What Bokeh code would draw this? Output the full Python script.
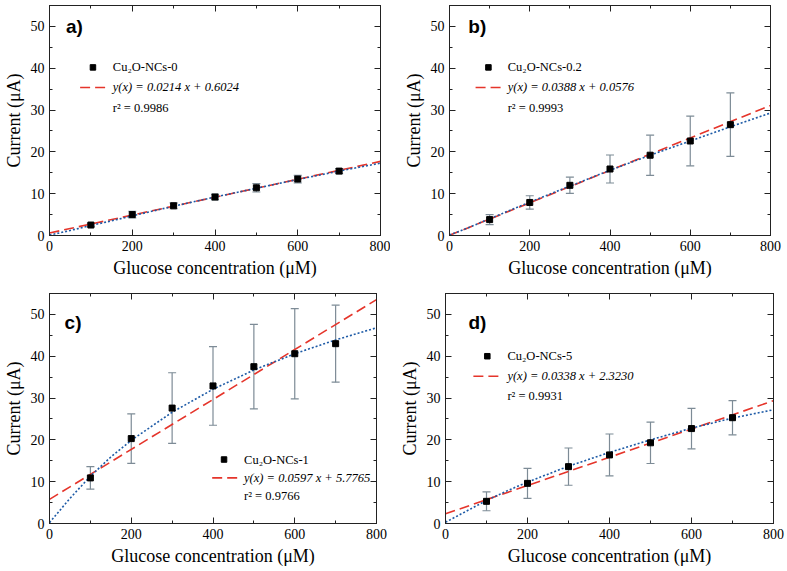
import numpy as np
from bokeh.plotting import figure
from bokeh.models import (LinearAxis, Range1d, Whisker, ColumnDataSource, SingleIntervalTicker,
                          TeeHead, CustomLabelingPolicy)
from bokeh.layouts import column, row
from bokeh.embed import file_html
from bokeh.resources import INLINE
from bokeh.core.properties import value

# ---------------- data ----------------
conc = [100, 200, 300, 400, 500, 600, 700]

a_mean = [2.5, 5.0, 7.1, 9.2, 11.4, 13.5, 15.4]
a_err = [0.4, 0.8, 0.7, 0.7, 1.0, 0.9, 0.6]
b_mean = [3.8, 7.9, 12.0, 15.9, 19.2, 22.6, 26.5]
b_err = [1.2, 1.6, 1.95, 3.35, 4.8, 5.95, 7.6]
c_mean = [10.9, 20.3, 27.6, 32.9, 37.5, 40.6, 43.0]
c_err = [2.7, 5.9, 8.45, 9.4, 10.1, 10.8, 9.2]
d_mean = [5.3, 9.6, 13.6, 16.4, 19.3, 22.7, 25.3]
d_err = [2.25, 3.6, 4.45, 5.0, 4.95, 4.85, 4.1]

# linear fits (from the legends)
fit_slope = [0.0214, 0.0388, 0.0597, 0.0338]
fit_intercept = [0.6024, 0.0576, 5.7765, 2.3230]
fit_r2 = ["0.9986", "0.9993", "0.9766", "0.9931"]
sample_names = ["Cu\u2082O-NCs-0", "Cu\u2082O-NCs-0.2", "Cu\u2082O-NCs-1", "Cu\u2082O-NCs-5"]
panel_labels = ["a)", "b)", "c)", "d)"]

# dotted (non-linear) fit curves
curve_x = [0, 50, 100, 150, 200, 300, 400, 500, 600, 700, 800]
a_curve = [0.1, 1.2, 2.4, 3.5, 4.7, 7.0, 9.2, 11.3, 13.4, 15.4, 17.3]
b_curve = [0.1, 2.0, 4.0, 6.0, 8.0, 11.8, 15.6, 19.2, 22.6, 26.0, 29.3]
c_curve = [0.2, 6.0, 11.3, 15.9, 19.9, 26.6, 32.1, 36.7, 40.6, 43.9, 46.8]
d_curve = [0.3, 2.9, 5.5, 7.8, 9.9, 13.7, 17.0, 20.0, 22.8, 25.2, 27.2]

x_ticks_interval = 200
y_ticks_interval = 10

SERIF = "Liberation Serif"
SANS = "Liberation Sans"
RED = "#e5352b"
BLUE = "#1d5aa6"
ERR = "#7d8b96"

NO_LABELS = "for (const i of [...indices]) { indices.unset(i) } return indices"


def style_axis(ax, labels=True):
    ax.major_tick_in = 6
    ax.major_tick_out = 0
    ax.minor_tick_in = 3
    ax.minor_tick_out = 0
    ax.axis_line_color = "#222222"
    ax.major_tick_line_color = "#222222"
    ax.minor_tick_line_color = "#222222"
    if labels:
        ax.major_label_text_font = SERIF
        ax.major_label_text_font_size = "14px"
        ax.major_label_text_color = "black"
        ax.major_label_standoff = 5
    else:
        ax.major_label_text_font_size = "0px"
        ax.major_label_standoff = 0
        ax.major_label_policy = CustomLabelingPolicy(code=NO_LABELS)


def make_panel(idx, mean, err, curve, width, height, borders, legend_pos, label_pos):
    bl, br, bt, bb = borders
    p = figure(width=width, height=height, x_range=Range1d(0, 800), y_range=Range1d(0, 55),
               output_backend="svg", toolbar_location=None,
               x_axis_label="Glucose concentration (\u03bcM)", y_axis_label="Current (\u03bcA)",
               min_border_left=bl, min_border_right=br, min_border_top=bt, min_border_bottom=bb)
    p.xgrid.visible = False
    p.ygrid.visible = False
    p.outline_line_color = "#222222"
    p.background_fill_color = "white"
    p.border_fill_color = "white"

    xt = SingleIntervalTicker(interval=x_ticks_interval, num_minor_ticks=2)
    yt = SingleIntervalTicker(interval=y_ticks_interval, num_minor_ticks=2)
    p.xaxis.ticker = xt
    p.yaxis.ticker = yt
    for ax in p.xaxis + p.yaxis:
        style_axis(ax)
        ax.axis_label_text_font = SERIF
        ax.axis_label_text_font_size = "18px"
        ax.axis_label_text_font_style = "normal"
        ax.axis_label_text_color = "black"
        ax.axis_label_standoff = 4
    top = LinearAxis(ticker=SingleIntervalTicker(interval=x_ticks_interval, num_minor_ticks=2))
    right = LinearAxis(ticker=SingleIntervalTicker(interval=y_ticks_interval, num_minor_ticks=2))
    style_axis(top, labels=False)
    style_axis(right, labels=False)
    p.add_layout(top, "above")
    p.add_layout(right, "right")

    lower = [m - e for m, e in zip(mean, err)]
    upper = [m + e for m, e in zip(mean, err)]
    src = ColumnDataSource(dict(x=conc, y=mean, lower=lower, upper=upper))

    # linear fit line
    fx = np.array([0, 800])
    fy = fit_slope[idx] * fx + fit_intercept[idx]
    p.line(fx, fy, line_color=RED, line_width=1.6, line_dash="10 5")
    # dotted curve
    p.line(curve_x, curve, line_color=BLUE, line_width=1.6, line_dash="2 2")

    w = Whisker(base="x", lower="lower", upper="upper", source=src,
                line_color=ERR, line_width=1.2,
                upper_head=TeeHead(size=8, line_color=ERR, line_width=1.2),
                lower_head=TeeHead(size=8, line_color=ERR, line_width=1.2))
    p.add_layout(w)
    p.scatter("x", "y", source=src, marker="square", size=6, fill_color="black", line_color="black")

    # legend (drawn by hand)
    mx, tx, dx0, dx1, y0, dy = legend_pos
    p.scatter([mx], [y0], marker="square", size=5.5, fill_color="black", line_color="black")
    p.text([tx], [y0], text=[sample_names[idx]], text_font=value(SERIF), text_font_size="12.5px",
           text_baseline="middle", text_align="left", text_color="black")
    p.line([dx0, dx1], [y0 - dy, y0 - dy], line_color=RED, line_width=1.6, line_dash="10 5")
    eq = "y(x) = %.4f x + %.4f" % (fit_slope[idx], fit_intercept[idx])
    p.text([tx], [y0 - dy], text=[eq], text_font=value(SERIF), text_font_size="12.5px",
           text_font_style="italic", text_baseline="middle", text_align="left", text_color="black")
    p.text([tx], [y0 - 2 * dy], text=["r\u00b2 = " + fit_r2[idx]], text_font=value(SERIF),
           text_font_size="12.5px", text_baseline="middle", text_align="left", text_color="black")

    lx, ly = label_pos
    p.text([lx], [ly], text=[panel_labels[idx]], text_font=value(SANS), text_font_size="19px",
           text_font_style="bold", text_baseline="middle", text_align="left", text_color="black")
    return p


pa = make_panel(0, a_mean, a_err, a_curve, 390, 280, (46, 10, 5, 44),
                (105, 153, 74, 136, 40.2, 4.8), (40, 50))
pb = make_panel(1, b_mean, b_err, b_curve, 397, 280, (59, 17, 5, 44),
                (97, 145, 65, 132, 40.2, 4.8), (47, 50))
pc = make_panel(2, c_mean, c_err, c_curve, 390, 291, (48, 14, 13, 48),
                (427, 476, 398, 461, 15.3, 4.4), (37, 48))
pd = make_panel(3, d_mean, d_err, d_curve, 397, 291, (55, 14, 13, 48),
                (102, 151, 68, 134, 40.0, 4.8), (56, 48))

layout = column(row(pa, pb), row(pc, pd))
open("out.html", "w").write(file_html(layout, INLINE))
